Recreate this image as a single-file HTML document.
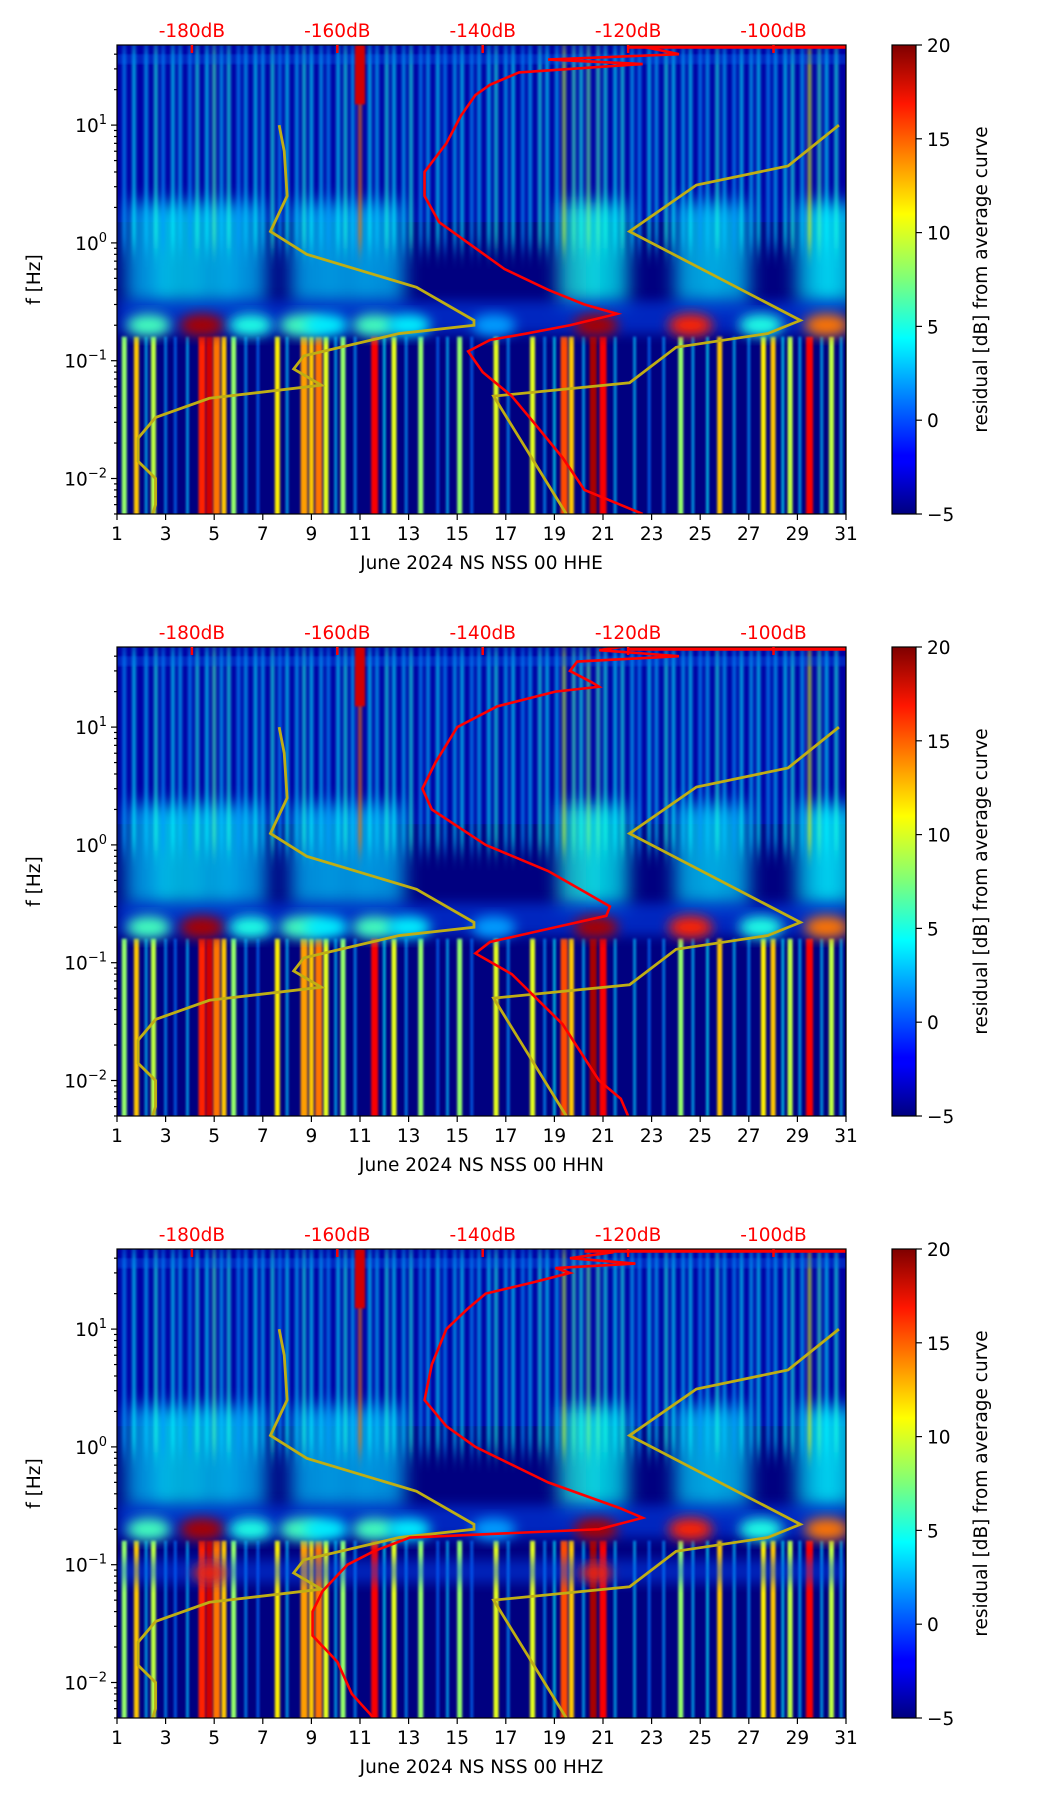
<!DOCTYPE html>
<html><head><meta charset="utf-8"><style>
html,body{margin:0;padding:0;background:#fff}
svg{display:block}
text{font-family:"DejaVu Sans","Liberation Sans",sans-serif}
</style></head><body>
<svg id="fig" width="1052" height="1806" viewBox="0 0 1052 1806" xmlns="http://www.w3.org/2000/svg">
<defs>
<filter id="blur" x="-40%" y="-40%" width="180%" height="180%"><feGaussianBlur stdDeviation="9"/></filter>
<filter id="blurh" x="-40%" y="-40%" width="180%" height="180%"><feGaussianBlur stdDeviation="6"/></filter>
<filter id="blurv" x="-50%" y="-10%" width="200%" height="120%"><feGaussianBlur stdDeviation="1.5 10"/></filter>
<filter id="blur2" x="-50%" y="-5%" width="200%" height="110%"><feGaussianBlur stdDeviation="1"/></filter>
<linearGradient id="jetgrad" x1="0" y1="1" x2="0" y2="0">
<stop offset="0" stop-color="#00007f"/><stop offset="0.11" stop-color="#0000ff"/><stop offset="0.125" stop-color="#0000ff"/>
<stop offset="0.34" stop-color="#00ddff"/><stop offset="0.375" stop-color="#00ffff"/><stop offset="0.5" stop-color="#7dff7a"/>
<stop offset="0.64" stop-color="#ffff00"/><stop offset="0.875" stop-color="#ff1600"/><stop offset="1" stop-color="#7f0000"/>
</linearGradient>
</defs>
</svg>
<script>
// ---- data ----
const days = [1,3,5,7,9,11,13,15,17,19,21,23,25,27,29,31];
const dbTicks = [-180,-160,-140,-120,-100];
const cbTicks = [20,15,10,5,0,-5];
const stations = ["June 2024 NS NSS 00 HHE","June 2024 NS NSS 00 HHN","June 2024 NS NSS 00 HHZ"];
// low-frequency stripes (below 0.17 Hz)
const lowDays = [1.3,1.8,2.2,2.5,3.0,3.4,3.9,4.5,4.8,5.1,5.4,5.8,6.3,6.8,7.6,8.0,8.7,9.0,9.3,9.6,10.0,10.3,10.8,11.6,12.0,12.4,12.9,13.5,14.2,14.6,15.1,15.6,16.6,17.1,18.1,18.6,19.0,19.4,19.7,20.2,20.6,21.0,21.5,22.3,22.9,23.5,24.2,24.7,25.3,25.8,26.4,27.0,27.6,28.0,28.4,28.7,29.1,29.5,30.0,30.4,30.8];
const lowVals = [8,12,3,9,2,1,3,16,18,14,12,8,2,1,11,3,13,12,14,10,3,8,2,17,4,10,2,8,1,3,8,1,10,2,10,2,4,15,12,3,19,17,3,3,1,2,8,3,4,12,3,2,11,12,4,9,3,17,3,9,3];
// high-frequency streaks (above 0.5 Hz)
const hiDays = [1.3,1.7,2.2,2.6,2.9,3.3,3.6,4.0,4.3,4.7,5.0,5.3,5.6,6.0,6.3,6.7,7.0,7.4,7.7,8.0,8.4,8.7,9.0,9.4,9.7,10.1,10.4,10.7,11.0,11.4,11.7,12.1,12.4,12.8,13.1,13.5,13.8,14.2,14.5,14.9,15.2,15.6,15.9,16.3,16.6,17.0,17.3,17.7,18.0,18.4,18.7,19.1,19.4,19.8,20.1,20.4,20.8,21.1,21.5,21.8,22.2,22.5,22.9,23.2,23.6,23.9,24.3,24.6,25.0,25.3,25.7,26.0,26.4,26.7,27.1,27.4,27.8,28.1,28.5,28.8,29.2,29.5,29.9,30.2,30.6];
const hiVals = [2,4,3,5,2,4,3,2,5,4,6,3,5,2,3,4,3,5,2,4,3,5,4,3,2,4,5,3,14,4,3,5,4,3,5,2,3,4,2,3,4,2,3,4,5,3,4,2,3,5,4,3,9,6,5,7,6,5,4,5,3,2,4,3,5,4,3,4,2,3,5,3,2,4,3,4,2,3,4,5,3,10,6,4,5];
// microseism cloud (0.3-2 Hz)
const cloudDays = [2.2,3.5,5.0,6.3,9.0,10.5,12.0,20.0,21.2,24.8,26.2,29.8,30.7];
const cloudVals = [3,4,3.5,3,3,3,3,5,4.5,3.5,3.5,4,4];
// hot spots at ~0.2 Hz
const hotDays = [2.3,4.5,6.5,8.6,9.6,11.6,13.0,16.5,20.7,24.6,27.5,30.2];
const hotVals = [6,19,5,6,4,6,4,2,19,16,5,14];
// Peterson noise models (f Hz, dB)
const nlnmF = [10,6,2.5,1.25,0.8,0.42,0.22,0.2,0.17,0.11,0.085,0.062,0.048,0.033,0.022,0.014,0.01,0.006,0.005];
const nlnmDb = [-168,-167.3,-166.9,-169.2,-164.2,-149.1,-141.2,-141.2,-151.5,-164.6,-166,-162.2,-177.6,-185,-187.4,-187.4,-185,-185,-185.4];
const nhnmF = [10,4.5,3.1,1.25,0.22,0.17,0.13,0.065,0.05,0.005];
const nhnmDb = [-91,-98,-110.6,-119.8,-96.3,-100.8,-113.4,-119.8,-138.5,-128.5];
// average curves per panel
const avgF = [
 [49,45,40,36,33,28,22,18,12,7,4,2.5,1.5,1.0,0.6,0.4,0.3,0.25,0.2,0.17,0.15,0.12,0.08,0.05,0.03,0.015,0.008,0.005],
 [49,45,40,36,30,24,22,20,15,10,5,3,2,1,0.6,0.4,0.3,0.25,0.2,0.15,0.12,0.08,0.03,0.01,0.007,0.005],
 [49,45,40,36,33,30,25,20,15,10,5,2.5,1.5,1,0.5,0.3,0.25,0.2,0.17,0.13,0.1,0.06,0.04,0.025,0.015,0.008,0.005]];
const avgDb = [
 [-120,-117,-113,-131,-118,-135,-139,-141,-143,-145,-148,-148,-146,-142,-137,-131,-126,-121.5,-128,-134,-139,-142,-140,-136,-133,-129,-126,-118],
 [-120,-124,-113,-127,-128,-125,-124,-130,-138,-143.5,-146.5,-148.3,-147,-139.6,-131,-126,-122.5,-123,-130,-139,-141,-136,-129,-124,-121,-120],
 [-126,-122,-128,-119,-130,-128,-133,-139.6,-142,-145,-147,-148,-145,-141,-131,-121,-118,-124,-150,-155,-158.6,-162,-163.4,-163.4,-160,-158,-155]];

// ---- helpers ----
const NS="http://www.w3.org/2000/svg";
const svg=document.getElementById('fig');
function el(tag,attrs,parent){const e=document.createElementNS(NS,tag);for(const k in attrs)e.setAttribute(k,attrs[k]);(parent||svg).appendChild(e);return e;}
function jet(v){const t=Math.max(0,Math.min(1,(v+5)/25));const c=x=>Math.round(255*Math.max(0,Math.min(1,1.5-Math.abs(4*t-x))));return `rgb(${c(3)},${c(2)},${c(1)})`;}
const X0=117,X1=846;
const xDay=d=>X0+(d-1)*(X1-X0)/30;
const xDb=db=>191.9+(db+180)*7.27;
const FS=18.5;

for(let p=0;p<3;p++){
  const Y0=45+602*p, Y1=514+602*p;
  const yF=f=>Y0+(1.68-Math.log10(f))*117.8;
  const clipId='clip'+p;
  const cp=el('clipPath',{id:clipId});el('rect',{x:X0,y:Y0,width:X1-X0,height:Y1-Y0},cp);
  const g=el('g',{'clip-path':`url(#${clipId})`});
  
  
  el('rect',{x:X0,y:Y0,width:X1-X0,height:Y1-Y0,fill:jet(-5)},g);
  // hf diffuse base
  el('rect',{x:X0,y:Y0,width:X1-X0,height:yF(1.5)-Y0,fill:jet(-2),opacity:0.3},g);
  // cloud
  const cg=el('g',{filter:'url(#blur)'},g);
  cloudDays.forEach((d,i)=>{const r=el('rect',{x:xDay(d)-20,y:yF(2.2),width:40,height:yF(0.3)-yF(2.2),fill:jet(cloudVals[i]),opacity:0.7},cg);
    });
  // hi streaks
  const hg=el('g',{filter:'url(#blurv)'},g);
  hiDays.forEach((d,i)=>{const r=el('rect',{x:xDay(d)-1.6,y:Y0,width:3.2,height:yF(0.9)-Y0,fill:jet(hiVals[i]),opacity:0.8},hg);
    });
  // top band around 30-40 Hz
  el('rect',{x:X0,y:yF(40),width:X1-X0,height:10,fill:jet(1),opacity:0.3,filter:'url(#blur2)'},g);
  // low stripes
  lowDays.forEach((d,i)=>{const v=lowVals[i];const w=v>12?7:(v>6?5:3);const r=el('rect',{x:xDay(d)-w/2,y:yF(0.16),width:w,height:Y1-yF(0.16)+10,fill:jet(v),opacity:v>6?1:0.7,filter:'url(#blur2)'},g);
    });
  // microseism band
  el('rect',{x:X0,y:yF(0.32),width:X1-X0,height:yF(0.17)-yF(0.32),fill:jet(0),opacity:0.5,filter:'url(#blurh)'},g);
  hotDays.forEach((d,i)=>{const e=el('ellipse',{cx:xDay(d),cy:yF(0.2),rx:22,ry:11,fill:jet(hotVals[i]),filter:'url(#blurh)'},g);
    });
  if(p===2){el('rect',{x:X0,y:yF(0.11),width:X1-X0,height:yF(0.07)-yF(0.11),fill:jet(0),opacity:0.45,filter:'url(#blurh)'},g);
    [4.8,20.7].forEach(d=>{el('ellipse',{cx:xDay(d),cy:yF(0.085),rx:16,ry:8,fill:jet(16),filter:'url(#blurh)'},g);});}
  // day 11 high feature
  el('rect',{x:xDay(11)-5,y:Y0,width:10,height:yF(15)-Y0,fill:jet(18),filter:'url(#blur2)'},g);
  // noise models
  const nl=nlnmF.map((f,i)=>xDb(nlnmDb[i])+','+yF(f)).join(' ');
  const pl1=el('polyline',{points:nl,fill:'none',stroke:'#bfae14',"stroke-width":2.8},g);
  
  const nh=nhnmF.map((f,i)=>xDb(nhnmDb[i])+','+yF(f)).join(' ');
  const pl2=el('polyline',{points:nh,fill:'none',stroke:'#bfae14',"stroke-width":2.8},g);
  
  // average curve
  const av=avgF[p].map((f,i)=>xDb(avgDb[p][i])+','+yF(f)).join(' ');
  const pl3=el('polyline',{points:av,fill:'none',stroke:'#ff0000',"stroke-width":2.6},g);
  
  el('line',{x1:xDb(avgDb[p][0]),y1:Y0+2,x2:X1,y2:Y0+2,stroke:'#ff0000','stroke-width':3.5},g);
  // frame
  const fr=el('rect',{x:X0,y:Y0,width:X1-X0,height:Y1-Y0,fill:'none',stroke:'#000','stroke-width':1.2});
  
  // top dB axis
  dbTicks.forEach(db=>{const x=xDb(db);el('line',{x1:x,y1:Y0,x2:x,y2:Y0+8,stroke:'#f00','stroke-width':2.5});
    const t=el('text',{x:x,y:Y0-8,'text-anchor':'middle','font-size':FS,fill:'#f00'});t.textContent=db+'dB';
    });
  // x ticks
  days.forEach(d=>{const x=xDay(d);el('line',{x1:x,y1:Y1,x2:x,y2:Y1+6,stroke:'#000','stroke-width':1.2});
    const t=el('text',{x:x,y:Y1+26,'text-anchor':'middle','font-size':FS,fill:'#000'});t.textContent=d;
    });
  const xl=el('text',{x:(X0+X1)/2,y:Y1+55,'text-anchor':'middle','font-size':FS});xl.textContent=stations[p];
  
  // y ticks
  for(let e=-3;e<=1;e++){for(let m=1;m<10;m++){const f=m*Math.pow(10,e);const y=yF(f);if(y<Y0-0.5||y>Y1+0.5)continue;
    el('line',{x1:X0,y1:y,x2:X0-(m===1?6:3),y2:y,stroke:'#000','stroke-width':1.2});
    if(m===1){const t=el('text',{x:X0-10,y:y+7,'text-anchor':'end','font-size':FS});
      t.innerHTML='10<tspan dy="-8" font-size="13">'+(e<0?'\u2212':'')+Math.abs(e)+'</tspan>';
      }}}
  const yc=(Y0+Y1)/2;
  const yl=el('text',{x:40,y:yc,'text-anchor':'middle','font-size':FS,transform:`rotate(-90 40 ${yc})`});yl.textContent='f [Hz]';
  
  // colorbar
  const cb=el('rect',{x:892,y:Y0,width:24,height:Y1-Y0,fill:'url(#jetgrad)',stroke:'#000','stroke-width':1.2});
  
  cbTicks.forEach(v=>{const y=Y1-(v+5)/25*(Y1-Y0);el('line',{x1:916,y1:y,x2:922,y2:y,stroke:'#000','stroke-width':1.2});
    const t=el('text',{x:927,y:y+7,'font-size':FS});t.textContent=(v<0?'\u2212':'')+Math.abs(v);
    });
  const cl=el('text',{x:987,y:yc,'text-anchor':'middle','font-size':FS,transform:`rotate(-90 987 ${yc})`});cl.textContent='residual [dB] from average curve';
  
}
</script>
</body></html>
